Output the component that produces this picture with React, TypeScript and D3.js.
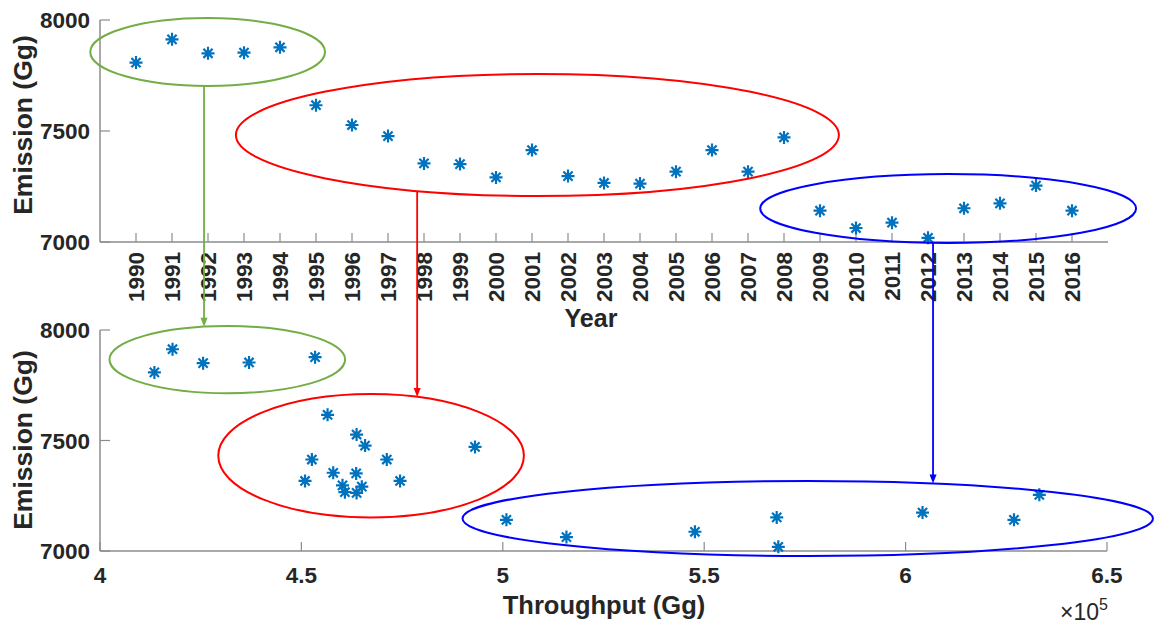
import React from 'react';
import * as d3 from 'd3';

// emission (Gg) per year, throughput (Gg) per year
const years = [1990, 1991, 1992, 1993, 1994, 1995, 1996, 1997, 1998, 1999, 2000, 2001, 2002, 2003,
  2004, 2005, 2006, 2007, 2008, 2009, 2010, 2011, 2012, 2013, 2014, 2015, 2016];
const emission = [7808, 7913, 7850, 7853, 7877, 7616, 7527, 7477, 7354, 7351, 7291, 7414, 7297, 7266,
  7263, 7317, 7414, 7317, 7471, 7141, 7063, 7087, 7019, 7152, 7174, 7254, 7141];
const throughput = [413500, 418000, 425600, 437000, 453400, 456500, 463700, 465800, 457900, 463600,
  465000, 452600, 460200, 460800, 463700, 450900, 471200, 474500, 493100, 500900, 515800, 547700,
  568400, 568000, 604200, 633200, 626900];

const emissionTicks = [7000, 7500, 8000];
const throughputTicks = [400000, 450000, 500000, 550000, 600000, 650000];

// cluster annotations (data units)
const groupColors = ['#72AD45', '#FF0000', '#0000FF'];
const topEllipses = [
  { cx: 1991.99, cy: 7856, rx: 3.26, ry: 153 },
  { cx: 2001.15, cy: 7482, rx: 8.375, ry: 275 },
  { cx: 2012.56, cy: 7151, rx: 5.22, ry: 155 },
];
const bottomEllipses = [
  { cx: 431600, cy: 7866, rx: 29250, ry: 152 },
  { cx: 467300, cy: 7431, rx: 37940, ry: 279 },
  { cx: 575700, cy: 7147, rx: 85700, ry: 170 },
];
const arrowYears = [1991.89, 1997.81, 2012.14];

const W = 1154;
const H = 624;
const font = '"Liberation Sans", Arial, Helvetica, sans-serif';
const textColor = '#262626';
const axisColor = '#8c8c8c';
const markerColor = '#0072BD';

const xTop = d3.scaleLinear().domain([1989, 2017]).range([100, 1108]);
const yTop = d3.scaleLinear().domain([7000, 8000]).range([242, 20]);
const xBot = d3.scaleLinear().domain([400000, 650000]).range([100, 1107]);
const yBot = d3.scaleLinear().domain([7000, 8000]).range([551, 330]);

const star = (s: number) => {
  const d = s * 0.707;
  return `M${-s},0L${s},0M0,${-s}L0,${s}M${-d},${-d}L${d},${d}M${-d},${d}L${d},${-d}`;
};

const toPx = (e: any, xs: any, ys: any) => ({
  cx: xs(e.cx),
  cy: ys(e.cy),
  rx: xs(e.cx + e.rx) - xs(e.cx),
  ry: ys(e.cy) - ys(e.cy + e.ry),
});

const App = () => {
  const topPx = topEllipses.map(e => toPx(e, xTop, yTop));
  const botPx = bottomEllipses.map(e => toPx(e, xBot, yBot));

  const arrows = arrowYears.map((yr, i) => {
    const x = xTop(yr);
    const t = topPx[i];
    const b = botPx[i];
    const ft = Math.sqrt(Math.max(0, 1 - ((x - t.cx) / t.rx) ** 2));
    const fb = Math.sqrt(Math.max(0, 1 - ((x - b.cx) / b.rx) ** 2));
    return { x, y1: t.cy + t.ry * ft, y2: b.cy - b.ry * fb, color: groupColors[i] };
  });

  return (
    <svg width={W} height={H} style={{ position: 'absolute', left: 0, top: 0, background: '#fff' }}
      fontFamily={font}>
      {/* top panel: emission by year */}
      <g>
        <line x1={100} x2={1108} y1={yTop(7000)} y2={yTop(7000)} stroke={axisColor} strokeWidth={1.5} />
        <line x1={100} x2={100} y1={yTop(7000)} y2={yTop(8000)} stroke={axisColor} strokeWidth={1.5} />
        {years.map(y => (
          <g key={y}>
            <line x1={xTop(y)} x2={xTop(y)} y1={yTop(7000)} y2={yTop(7000) - 9} stroke={axisColor} strokeWidth={1.2} />
            <text transform={`translate(${xTop(y)},252) rotate(-90)`} textAnchor="end" dy="0.36em"
              fontSize={22.5} fontWeight="bold" fill={textColor}>{y}</text>
          </g>
        ))}
        {emissionTicks.map(v => (
          <g key={v}>
            <line x1={100} x2={110} y1={yTop(v)} y2={yTop(v)} stroke={axisColor} strokeWidth={1.2} />
            <text x={90} y={yTop(v)} dy="0.36em" textAnchor="end" fontSize={22.5} fontWeight="bold"
              fill={textColor}>{v}</text>
          </g>
        ))}
        <text transform="translate(32,125) rotate(-90)" textAnchor="middle" fontSize={26.5}
          fontWeight="bold" fill={textColor}>Emission (Gg)</text>
        <text x={591} y={327} textAnchor="middle" fontSize={25} fontWeight="bold" fill={textColor}>Year</text>
        {years.map((y, i) => (
          <path key={y} d={star(6.5)} transform={`translate(${xTop(y)},${yTop(emission[i])})`}
            stroke={markerColor} strokeWidth={2.2} fill="none" />
        ))}
      </g>

      {/* bottom panel: emission by throughput */}
      <g>
        <line x1={100} x2={1107} y1={yBot(7000)} y2={yBot(7000)} stroke={axisColor} strokeWidth={1.5} />
        <line x1={100} x2={100} y1={yBot(7000)} y2={yBot(8000)} stroke={axisColor} strokeWidth={1.5} />
        {throughputTicks.map(t => (
          <g key={t}>
            <line x1={xBot(t)} x2={xBot(t)} y1={yBot(7000)} y2={yBot(7000) - 9} stroke={axisColor} strokeWidth={1.2} />
            <text x={xBot(t)} y={583} textAnchor="middle" fontSize={22.5} fontWeight="bold"
              fill={textColor}>{d3.format('~g')(t / 1e5)}</text>
          </g>
        ))}
        {emissionTicks.map(v => (
          <g key={v}>
            <line x1={100} x2={110} y1={yBot(v)} y2={yBot(v)} stroke={axisColor} strokeWidth={1.2} />
            <text x={90} y={yBot(v)} dy="0.36em" textAnchor="end" fontSize={22.5} fontWeight="bold"
              fill={textColor}>{v}</text>
          </g>
        ))}
        <text transform="translate(32,440) rotate(-90)" textAnchor="middle" fontSize={26.5}
          fontWeight="bold" fill={textColor}>Emission (Gg)</text>
        <text x={604} y={614} textAnchor="middle" fontSize={25.5} fontWeight="bold" fill={textColor}>Throughput (Gg)</text>
        <text x={1108} y={620} textAnchor="end" fontSize={23} fill={textColor}>
          ×10<tspan fontSize={16} dy={-10}>5</tspan>
        </text>
        {years.map((y, i) => (
          <path key={y} d={star(6.5)} transform={`translate(${xBot(throughput[i])},${yBot(emission[i])})`}
            stroke={markerColor} strokeWidth={2.2} fill="none" />
        ))}
      </g>

      {/* cluster ellipses and arrows */}
      {topPx.map((e, i) => (
        <ellipse key={'t' + i} cx={e.cx} cy={e.cy} rx={e.rx} ry={e.ry} fill="none"
          stroke={groupColors[i]} strokeWidth={2} />
      ))}
      {botPx.map((e, i) => (
        <ellipse key={'b' + i} cx={e.cx} cy={e.cy} rx={e.rx} ry={e.ry} fill="none"
          stroke={groupColors[i]} strokeWidth={2} />
      ))}
      {arrows.map((a, i) => (
        <g key={'a' + i}>
          <line x1={a.x} x2={a.x} y1={a.y1} y2={a.y2 - 6} stroke={a.color} strokeWidth={1.8} />
          <path d={`M${a.x},${a.y2}L${a.x - 3.5},${a.y2 - 9}L${a.x + 3.5},${a.y2 - 9}Z`} fill={a.color} />
        </g>
      ))}
    </svg>
  );
};

export default App;
